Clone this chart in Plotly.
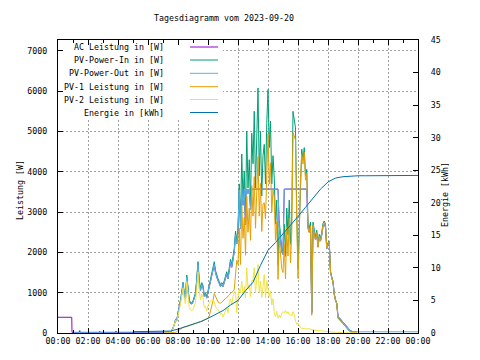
import pandas as pd
import plotly.graph_objects as go

# ---------------- data ----------------
DAY = "2023-09-20"
# 5-minute samples from 07:00 to 19:55 (one row per hour, 12 values)
pv_in_w = [
    0, 0, 0, 0, 0, 0, 20, 60, 120, 210, 340, 310,                      # 07
    530, 650, 820, 1000, 1260, 1000, 880, 1440, 1100, 820, 760, 750,   # 08
    800, 930, 1000, 1350, 1770, 1300, 1100, 1250, 1180, 950, 1000, 900,  # 09
    1050, 1150, 1330, 1450, 1600, 1770, 1550, 1420, 1350, 1280, 1200, 1250,  # 10
    1200, 1300, 1400, 1520, 1400, 1690, 1830, 1700, 1935, 2100, 2530, 2300,  # 11
    2600, 3700, 2700, 4440, 3300, 4020, 2800, 5010, 3600, 4300, 3200, 4960,  # 12
    4200, 5500, 3600, 4800, 6080, 3900, 5000, 3400, 4400, 4680, 3700, 5200,  # 13
    6040, 4600, 5260, 3700, 4400, 3850, 2700, 3300, 1700, 2780, 2400, 2100,  # 14
    2030, 2700, 1900, 3100, 2440, 3300, 2200, 2900, 5500, 5300, 5090, 3000,  # 15
    1600, 2600, 4000, 4560, 4300, 4600, 3900, 4060, 2700, 2600, 2750, 520,   # 16
    2750, 2500, 2380, 2550, 2200, 2450, 2350, 2500, 2720, 2780, 2700, 2150,  # 17
    2250, 2280, 1540, 1400, 1290, 970, 800, 720, 380, 340, 300, 260,        # 18
    230, 200, 170, 130, 90, 50, 30, 10, 0, 0, 0, 0,                          # 19
]
pv_out_w = [
    15, 15, 15, 15, 15, 15, 20, 55, 115, 200, 325, 300,
    510, 625, 790, 960, 1210, 960, 845, 1380, 1055, 790, 730, 720,
    770, 895, 960, 1295, 1700, 1250, 1055, 1200, 1135, 910, 960, 865,
    1010, 1105, 1275, 1390, 1535, 1700, 1490, 1365, 1295, 1230, 1150, 1200,
    1150, 1250, 1345, 1460, 1345, 1620, 1755, 1630, 1860, 2015, 2430, 2210,
    2500, 3550, 2590, 3570, 3170, 3570, 2690, 3570, 3460, 3570, 3070, 3570,
    3570, 3570, 3570, 3570, 3570, 3570, 3570, 3570, 3570, 3570, 3570, 3570,
    3570, 3570, 3570, 3570, 3570, 3570, 3570, 3570, 3570, 2650, 2300, 2000,
    1950, 3570, 3570, 3570, 3570, 3570, 3570, 3570, 3570, 3570, 3570, 3570,
    3570, 3570, 3570, 3570, 3570, 3570, 3570, 3570, 2600, 2500, 2650, 500,
    2670, 2430, 2310, 2470, 2130, 2380, 2280, 2430, 2640, 2700, 2620, 2090,
    2200, 2230, 1500, 1370, 1260, 960, 800, 740, 420, 380, 340, 300,
    270, 240, 210, 170, 130, 90, 60, 40, 30, 30, 30, 30,
]
pv1_w = [
    0, 0, 0, 0, 0, 0, 0, 0, 0, 10, 20, 30,
    60, 80, 100, 120, 140, 150, 150, 160, 170, 180, 190, 200,
    220, 230, 240, 250, 260, 270, 280, 290, 300, 320, 340, 360,
    370, 420, 530, 650, 800, 980, 900, 800, 770, 750, 740, 760,
    800, 830, 860, 880, 900, 940, 985, 1000, 1030, 1080, 1500, 1800,
    1700, 2600, 1700, 3150, 2350, 2870, 1930, 3390, 2500, 3100, 2300, 3660,
    2900, 3880, 2600, 3400, 4380, 2900, 3710, 2520, 3200, 3230, 2830, 3900,
    4940, 3700, 4220, 3000, 3550, 3350, 2300, 2760, 1330, 2330, 2020, 1600,
    1500, 2200, 1340, 2620, 1910, 2850, 1740, 2480, 4970, 4840, 4790, 2780,
    1350, 2400, 3870, 4440, 4190, 4480, 3790, 3960, 2590, 2500, 2660, 440,
    2670, 2430, 2310, 2490, 2140, 2390, 2300, 2450, 2670, 2740, 2660, 2110,
    2215, 2250, 1510, 1375, 1265, 950, 780, 705, 365, 330, 290, 250,
    225, 195, 165, 125, 88, 48, 28, 8, 0, 0, 0, 0,
]
pv2_w = [
    0, 0, 0, 0, 0, 0, 20, 60, 120, 200, 320, 280,
    470, 570, 720, 880, 1120, 850, 730, 1280, 930, 640, 570, 550,
    580, 700, 760, 1100, 1510, 1030, 820, 960, 880, 630, 660, 540,
    680, 730, 800, 800, 800, 790, 650, 620, 580, 530, 460, 490,
    400, 470, 540, 640, 500, 750, 845, 700, 905, 1020, 1030, 500,
    900, 1100, 1000, 1290, 950, 1150, 870, 1620, 1100, 1200, 900, 1300,
    1300, 1620, 1000, 1400, 1700, 1000, 1290, 880, 1200, 1450, 870, 1300,
    1100, 900, 1040, 700, 850, 500, 400, 540, 370, 450, 380, 500,
    530, 500, 560, 480, 530, 450, 460, 420, 530, 460, 300, 220,
    250, 200, 130, 120, 110, 120, 110, 100, 110, 100, 90, 80,
    80, 70, 70, 60, 60, 60, 50, 50, 50, 40, 40, 40,
    35, 30, 30, 25, 25, 20, 20, 15, 15, 10, 10, 10,
    5, 5, 5, 5, 2, 2, 2, 2, 0, 0, 0, 0,
]
# night readings
out_night_times = ["01:00", "06:55"]
out_night_w = [15, 15]
out_late_times = ["24:00"]
out_late_w = [30]
ac_night_times = ["00:00", "00:55", "00:56", "01:25", "01:27", "01:29",
                  "02:45", "02:47", "02:49", "03:50", "03:52", "03:54", "06:55"]
ac_night_w = [390, 390, 15, 15, 60, 15, 15, 45, 15, 15, 50, 15, 15]
# energy (kWh), every 30 minutes from 05:00 to 24:00
energy_kwh = [0.2, 0.2, 0.2, 0.2, 0.25, 0.3, 0.6, 0.95, 1.3, 1.75, 2.25, 2.8,
              3.45, 4.3, 5.0, 6.5, 7.8, 10.4, 12.7, 13.9, 15.2, 16.5, 17.9,
              19.3, 20.7, 22.1, 23.2, 23.8, 24.0, 24.1, 24.15, 24.15, 24.15,
              24.2, 24.2, 24.2, 24.2, 24.2, 24.2]

names = ["AC Leistung in [W]", "PV-Power-In in [W]", "PV-Power-Out in [W]",
         "PV-1 Leistung in [W]", "PV-2 Leistung in [W]", "Energie in [kWh]"]
colors = ["#9400d3", "#009e73", "#56b4e9", "#e69f00", "#f0e442", "#0072b2"]


def ts(hhmm):
    h, m = map(int, hhmm.split(":"))
    return pd.Timestamp(DAY) + pd.Timedelta(hours=h, minutes=m)


day_t = list(pd.date_range(f"{DAY} 07:00", periods=len(pv_in_w), freq="5min"))
energy_t = list(pd.date_range(f"{DAY} 05:00", periods=len(energy_kwh), freq="30min"))

out_t = [ts(t) for t in out_night_times] + day_t + [ts(t) for t in out_late_times]
out_v = out_night_w + pv_out_w + out_late_w
ac_t = [ts(t) for t in ac_night_times] + day_t
ac_v = ac_night_w + pv_out_w  # inverter AC output follows PV-Power-Out

series = [
    (ac_t, ac_v, "y"), (day_t, pv_in_w, "y"), (out_t, out_v, "y"),
    (day_t, pv1_w, "y"), (day_t, pv2_w, "y"), (energy_t, energy_kwh, "y2"),
]

fig = go.Figure()
for (x, y, ax), name, c in zip(series, names, colors):
    fig.add_trace(go.Scatter(x=x, y=y, name=name, mode="lines", yaxis=ax,
                             line=dict(color=c, width=1), showlegend=False,
                             hoverinfo="skip"))

FONT = "DejaVu Sans Mono"
FS = 8.3
OFF = 8  # page body margin
W, H = 480 - OFF, 360 - OFF
# plot area in screen pixels: x 58..418, y 40..333
L, T = 58 - OFF, 40 - OFF
R, B = (480 - 418), (360 - 333)
PW, PH = 360, 293
YMAX, Y2MAX = 7270, 45


def px(xs):
    return (xs - 58) / PW


def py(ys):
    return (333 - ys) / PH


GRID = dict(showgrid=True, gridcolor="#a0a0a0", griddash="2px,2px", gridwidth=1)

fig.update_layout(
    width=W, height=H, margin=dict(l=L, r=R, t=T, b=B),
    paper_bgcolor="white", plot_bgcolor="white",
    font=dict(family=FONT, size=FS, color="black"),
    title=dict(text="Tagesdiagramm vom 2023-09-20", x=(224 - OFF) / W,
               y=1 - (18 - OFF) / H, xanchor="center", yanchor="middle",
               xref="container", yref="container",
               font=dict(family=FONT, size=FS)),
    xaxis=dict(type="date", range=[f"{DAY} 00:00", "2023-09-21 00:00"],
               tick0=DAY, dtick=7200000, tickformat="%H:%M",
               ticks="inside", ticklen=5, tickcolor="black",
               showline=True, linecolor="black", linewidth=1, mirror="ticks",
               minor=dict(dtick=3600000, ticks="inside", ticklen=3,
                          tickcolor="black", showgrid=False),
               tickfont=dict(family=FONT, size=FS), zeroline=False, **GRID),
    yaxis=dict(range=[0, YMAX], dtick=1000, ticks="inside", ticklen=5,
               tickcolor="black", showline=True, linecolor="black",
               zeroline=False, ticklabelstandoff=8,
               tickfont=dict(family=FONT, size=FS), **GRID),
    yaxis2=dict(range=[0, Y2MAX], dtick=5, overlaying="y", side="right",
                ticks="inside", ticklen=5, tickcolor="black", showline=True,
                linecolor="black", showgrid=False, zeroline=False,
                ticklabelstandoff=10, tickfont=dict(family=FONT, size=FS)),
)

# key box (opaque background, like gnuplot's key) - between grid and traces
key_t1 = pd.Timestamp(DAY) + pd.Timedelta(hours=(223 - 58) / 15)
fig.add_shape(type="rect", xref="x", yref="y",
              x0=pd.Timestamp(DAY), x1=key_t1,
              y0=(333 - 119) / PH * YMAX, y1=YMAX,
              fillcolor="white", line_width=0, layer="between")
rows = [47, 60, 73.3, 86.7, 99.5, 112.5]
for name, c, yr in zip(names, colors, rows):
    fig.add_annotation(x=px(166), y=py(yr), xref="paper", yref="paper",
                       text=name, showarrow=False, xanchor="right",
                       yanchor="middle", font=dict(family=FONT, size=FS))
    fig.add_shape(type="line", xref="paper", yref="paper", x0=px(190),
                  x1=px(218), y0=py(yr), y1=py(yr),
                  line=dict(color=c, width=1), layer="above")

fig.add_annotation(x=px(13), y=py(190), xref="paper", yref="paper",
                   text="Leistung [W]", textangle=-90, showarrow=False,
                   font=dict(family=FONT, size=FS))
fig.add_annotation(x=px(452), y=py(195), xref="paper", yref="paper",
                   text="Energie [kWh]", textangle=-90, showarrow=False,
                   font=dict(family=FONT, size=FS))

fig.write_html("out.html")
